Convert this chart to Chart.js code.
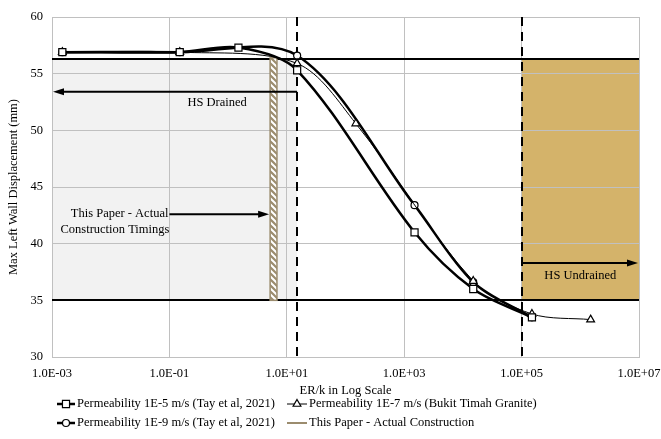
<!DOCTYPE html>
<html>
<head>
<meta charset="utf-8">
<script src="https://cdn.jsdelivr.net/npm/chart.js@4.4.1/dist/chart.umd.min.js"></script>
<style>
  body { margin: 0; background: #fff; }
  canvas { display: block; }
</style>
</head>
<body>
<canvas id="wallChart" width="661" height="439"></canvas>
<script>
// x axis ticks (ER/k, log scale)
const xTickValues = [1e-3, 1e-1, 1e1, 1e3, 1e5, 1e7];
const xTickLabels = ['1.0E-03', '1.0E-01', '1.0E+01', '1.0E+03', '1.0E+05', '1.0E+07'];

// Permeability 1E-5 m/s (squares)
const erk5 = [0.0015, 0.15, 1.5, 15, 1500, 15000, 150000];
const disp5 = [56.9, 56.9, 57.3, 55.3, 41.0, 36.0, 33.5];

// Permeability 1E-7 m/s (triangles)
const erk7 = [0.0015, 0.15, 15, 150, 15000, 150000, 1500000];
const disp7 = [56.9, 56.9, 55.9, 50.6, 36.7, 33.8, 33.3];

// Permeability 1E-9 m/s (circles)
const erk9 = [0.0015, 0.15, 15, 1500, 15000, 150000];
const disp9 = [56.9, 56.9, 56.6, 43.4, 36.6, 33.5];

// this paper - actual construction timings (hatched band)
const constructionErk = [5.2, 6.8];
const constructionDisp = [35, 56.4];

// drained / undrained limits
const stageBounds = [15, 1e5];
const dispLimits = [35, 56.3];

const serif = "'Liberation Serif', 'Times New Roman', serif";
const tan = '#9b8c6e';

const toXY = (xs, ys) => xs.map((x, i) => ({ x: x, y: ys[i] }));

// hatch pattern for the construction band
function makeHatch() {
    const c = document.createElement('canvas');
    c.width = 6; c.height = 6;
    const g = c.getContext('2d');
    g.fillStyle = tan;
    g.fillRect(0, 0, 6, 6);
    g.strokeStyle = '#fff';
    g.lineWidth = 2;
    g.beginPath();
    g.moveTo(-1, -1); g.lineTo(7, 7);
    g.moveTo(-4, 2); g.lineTo(2, 8);
    g.moveTo(2, -4); g.lineTo(8, 2);
    g.stroke();
    return g.createPattern(c, 'repeat');
}

function arrow(ctx, x1, y, x2) {
    const dir = x2 > x1 ? 1 : -1;
    ctx.beginPath();
    ctx.moveTo(x1, y);
    ctx.lineTo(x2 - dir * 8, y);
    ctx.stroke();
    ctx.beginPath();
    ctx.moveTo(x2, y);
    ctx.lineTo(x2 - dir * 11, y - 3.5);
    ctx.lineTo(x2 - dir * 11, y + 3.5);
    ctx.closePath();
    ctx.fill();
}

// shaded zones go under the grid
const zonesPlugin = {
    id: 'zones',
    beforeDraw(chart) {
        const { ctx, chartArea, scales: { x, y } } = chart;
        ctx.save();
        ctx.fillStyle = '#fff';
        ctx.fillRect(0, 0, chart.width, chart.height);
        const yTop = y.getPixelForValue(dispLimits[1]);
        const yBot = y.getPixelForValue(dispLimits[0]);
        ctx.fillStyle = '#f2f2f2';
        ctx.fillRect(chartArea.left, yTop, x.getPixelForValue(stageBounds[0]) - chartArea.left, yBot - yTop);
        ctx.fillStyle = '#d4b36a';
        const gx = x.getPixelForValue(stageBounds[1]);
        ctx.fillRect(gx, yTop, chartArea.right - gx, yBot - yTop);
        ctx.restore();
    }
};

// limit lines, band, arrows and notes
const notesPlugin = {
    id: 'notes',
    beforeDatasetsDraw(chart) {
        const { ctx, chartArea, scales: { x, y } } = chart;
        ctx.save();
        ctx.strokeStyle = '#000';
        ctx.fillStyle = '#000';
        ctx.lineWidth = 2;
        dispLimits.forEach(v => {
            const py = Math.round(y.getPixelForValue(v));
            ctx.beginPath();
            ctx.moveTo(chartArea.left, py);
            ctx.lineTo(chartArea.right, py);
            ctx.stroke();
        });
        ctx.setLineDash([9, 6]);
        stageBounds.forEach(v => {
            const px = Math.round(x.getPixelForValue(v));
            ctx.beginPath();
            ctx.moveTo(px, chartArea.top);
            ctx.lineTo(px, chartArea.bottom);
            ctx.stroke();
        });
        ctx.setLineDash([]);

        // hatched band
        const bx1 = x.getPixelForValue(constructionErk[0]);
        const bx2 = x.getPixelForValue(constructionErk[1]);
        const by1 = y.getPixelForValue(constructionDisp[1]);
        const by2 = y.getPixelForValue(constructionDisp[0]);
        ctx.fillStyle = makeHatch();
        ctx.fillRect(bx1, by1, bx2 - bx1, by2 - by1);
        ctx.strokeStyle = tan;
        ctx.lineWidth = 1.5;
        ctx.strokeRect(bx1, by1, bx2 - bx1, by2 - by1);

        // arrows
        ctx.strokeStyle = '#000';
        ctx.fillStyle = '#000';
        ctx.lineWidth = 2;
        const dY = y.getPixelForValue(53.4);
        arrow(ctx, x.getPixelForValue(stageBounds[0]), dY, chartArea.left + 1);
        const uY = y.getPixelForValue(38.3);
        arrow(ctx, x.getPixelForValue(stageBounds[1]), uY, chartArea.right - 1);
        const cY = y.getPixelForValue(42.6);
        const cX = x.getPixelForValue(0.1);
        arrow(ctx, cX, cY, bx1 - 1);

        ctx.font = '12.5px ' + serif;
        ctx.textBaseline = 'middle';
        ctx.textAlign = 'center';
        ctx.fillText('HS Drained', x.getPixelForValue(0.65), y.getPixelForValue(52.4));
        ctx.fillText('HS Undrained', x.getPixelForValue(1e6), y.getPixelForValue(37.2));
        ctx.textAlign = 'right';
        ctx.fillText('This Paper - Actual', cX - 1, cY);
        ctx.fillText('Construction Timings', cX, cY + 16);
        ctx.restore();
    }
};

// two column legend under the axis title
const legendPlugin = {
    id: 'twoColLegend',
    afterDraw(chart) {
        const { ctx } = chart;
        const slots = [
            { ds: 0, x: 57, y: 404, w: 18 },
            { ds: 1, x: 287, y: 404, w: 20 },
            { ds: 2, x: 57, y: 423, w: 18 },
            { ds: 3, x: 287, y: 423, w: 20 }
        ];
        ctx.save();
        ctx.font = '12.5px ' + serif;
        ctx.textBaseline = 'middle';
        ctx.textAlign = 'left';
        slots.forEach(s => {
            const d = chart.data.datasets[s.ds];
            ctx.strokeStyle = d.borderColor;
            ctx.lineWidth = d.borderWidth;
            ctx.beginPath();
            ctx.moveTo(s.x, s.y);
            ctx.lineTo(s.x + s.w, s.y);
            ctx.stroke();
            if (d.pointRadius) {
                ctx.fillStyle = '#fff';
                ctx.strokeStyle = '#000';
                ctx.lineWidth = d.pointBorderWidth;
                Chart.helpers.drawPoint(ctx, {
                    pointStyle: d.pointStyle,
                    radius: d.pointRadius,
                    borderWidth: d.pointBorderWidth,
                    rotation: 0
                }, s.x + s.w / 2, s.y);
            }
            ctx.fillStyle = '#000';
            ctx.fillText(d.label, s.x + s.w + 2, s.y);
        });
        ctx.restore();
    }
};

const seriesStyle = {
    borderColor: '#000',
    pointBackgroundColor: '#fff',
    pointBorderColor: '#000',
    pointBorderWidth: 1.2,
    tension: 0.32,
    fill: false
};

const chartData = {
    datasets: [
        Object.assign({}, seriesStyle, {
            label: 'Permeability 1E-5 m/s (Tay et al, 2021)',
            data: toXY(erk5, disp5),
            borderWidth: 2.5,
            pointStyle: 'rect',
            pointRadius: 5
        }),
        Object.assign({}, seriesStyle, {
            label: 'Permeability 1E-7 m/s (Bukit Timah Granite)',
            data: toXY(erk7, disp7),
            borderWidth: 1,
            pointStyle: 'triangle',
            pointRadius: 4.5
        }),
        Object.assign({}, seriesStyle, {
            label: 'Permeability 1E-9 m/s (Tay et al, 2021)',
            data: toXY(erk9, disp9),
            borderWidth: 2.5,
            pointStyle: 'circle',
            pointRadius: 3.5
        }),
        {
            label: 'This Paper - Actual Construction',
            data: [],
            borderColor: tan,
            borderWidth: 2,
            pointRadius: 0
        }
    ]
};

const config = {
    type: 'line',
    data: chartData,
    plugins: [zonesPlugin, notesPlugin, legendPlugin],
    options: {
        responsive: false,
        animation: false,
        layout: { padding: { left: 0, right: 22, top: 17, bottom: 41 } },
        plugins: {
            legend: { display: false },
            tooltip: { enabled: false }
        },
        scales: {
            x: {
                type: 'logarithmic',
                min: 1e-3,
                max: 1e7,
                afterBuildTicks: scale => {
                    scale.ticks = xTickValues.map(v => ({ value: v }));
                },
                afterFit: scale => {
                    scale.height = 41;
                    scale.paddingLeft = 0;
                    scale.paddingRight = 0;
                },
                ticks: {
                    autoSkip: false,
                    maxRotation: 0,
                    padding: 9,
                    color: '#000',
                    font: { family: serif, size: 12.5 },
                    callback: (value, index) => xTickLabels[index]
                },
                grid: { color: '#c0c0c0', drawTicks: false },
                border: { color: '#c0c0c0' },
                title: {
                    display: true,
                    text: 'ER/k in Log Scale',
                    color: '#000',
                    padding: 0,
                    font: { family: serif, size: 12.5 }
                }
            },
            y: {
                min: 30,
                max: 60,
                afterFit: scale => { scale.width = 52; },
                ticks: {
                    stepSize: 5,
                    padding: 9,
                    color: '#000',
                    font: { family: serif, size: 12.5 }
                },
                grid: { color: '#c0c0c0', drawTicks: false },
                border: { color: '#c0c0c0' },
                title: {
                    display: true,
                    text: 'Max Left Wall Displacement (mm)',
                    color: '#000',
                    padding: { top: 6, bottom: 0 },
                    font: { family: serif, size: 12.5 }
                }
            }
        }
    }
};

new Chart(document.getElementById('wallChart').getContext('2d'), config);
</script>
</body>
</html>
